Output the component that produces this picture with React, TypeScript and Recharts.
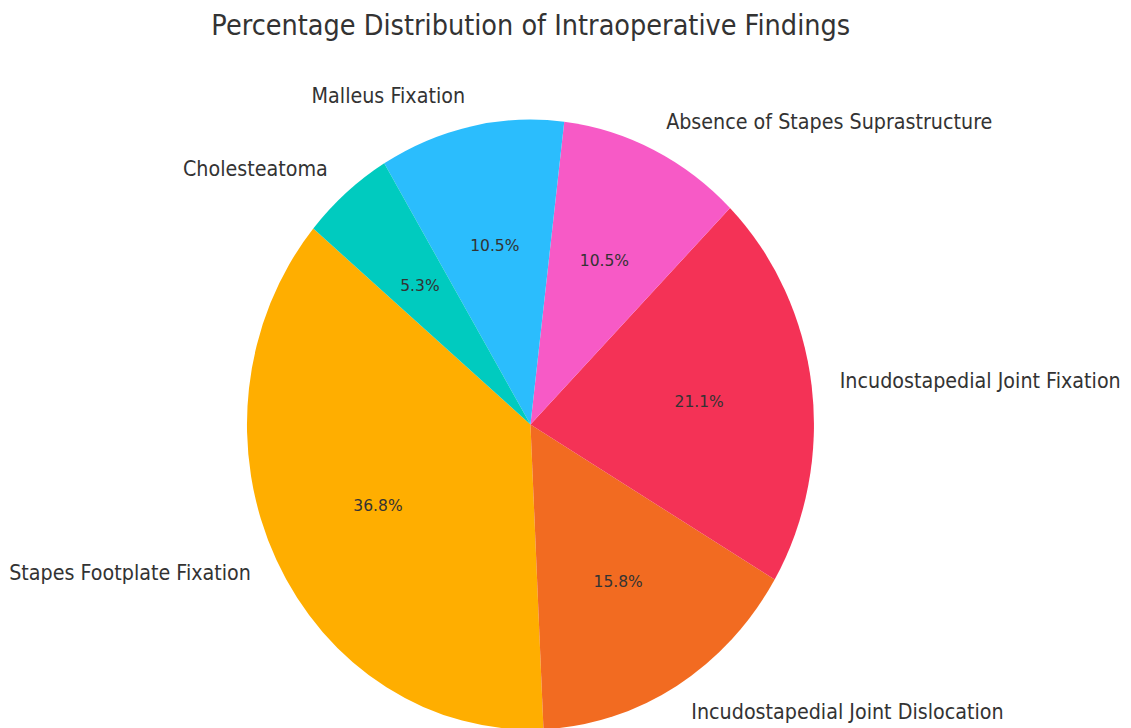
import { PieChart, Pie, Cell } from "recharts";

const findings = [
  "Stapes Footplate Fixation",
  "Incudostapedial Joint Dislocation",
  "Incudostapedial Joint Fixation",
  "Absence of Stapes Suprastructure",
  "Malleus Fixation",
  "Cholesteatoma",
];
const counts = [7, 3, 4, 2, 2, 1];
const colors = ["#FFAE00", "#F26B21", "#F43256", "#F75AC6", "#2BBDFD", "#00CBBF"];

const data = findings.map((name, i) => ({ name, value: counts[i] }));

const RAD = Math.PI / 180;
// the reference image is squeezed horizontally, so draw wide and scale down
const SQUEEZE = 0.9295;
const W = Math.round(1131 / SQUEEZE);
const FONT = "'DejaVu Sans', sans-serif";

const renderLabel = (props: any) => {
  const { cx, cy, midAngle, outerRadius, percent, name } = props;
  const cos = Math.cos(-midAngle * RAD);
  const sin = Math.sin(-midAngle * RAD);
  const lx = cx + outerRadius * 1.1 * cos;
  const ly = cy + outerRadius * 1.1 * sin;
  const px = cx + outerRadius * 0.6 * cos;
  const py = cy + outerRadius * 0.6 * sin;
  return (
    <g>
      <text
        x={lx}
        y={ly}
        textAnchor={cos >= 0 ? "start" : "end"}
        dominantBaseline="central"
        fontSize={20.6}
        fill="#333"
        fontFamily={FONT}
      >
        {name}
      </text>
      <text
        x={px}
        y={py}
        textAnchor="middle"
        dominantBaseline="central"
        fontSize={16.7}
        fill="#333"
        fontFamily={FONT}
      >
        {(percent * 100).toFixed(1)}%
      </text>
    </g>
  );
};

export default function App() {
  return (
    <div style={{ position: "fixed", left: 0, top: 0, width: 1131, height: 728, overflow: "hidden", background: "#fff" }}>
      <div style={{ width: W, height: 728, transform: `scaleX(${SQUEEZE})`, transformOrigin: "0 0" }}>
        <PieChart width={W} height={728} margin={{ top: 0, right: 0, bottom: 0, left: 0 }}>
          <text
            x={571}
            y={25}
            textAnchor="middle"
            dominantBaseline="central"
            fontSize={27.6}
            fill="#333"
            fontFamily={FONT}
          >
            Percentage Distribution of Intraoperative Findings
          </text>
          <Pie
            data={data}
            dataKey="value"
            nameKey="name"
            cx={570.7}
            cy={424.6}
            outerRadius={305}
            startAngle={140}
            endAngle={500}
            stroke="none"
            label={renderLabel}
            labelLine={false}
            isAnimationActive={false}
          >
            {data.map((d, i) => (
              <Cell key={d.name} fill={colors[i]} />
            ))}
          </Pie>
        </PieChart>
      </div>
    </div>
  );
}
